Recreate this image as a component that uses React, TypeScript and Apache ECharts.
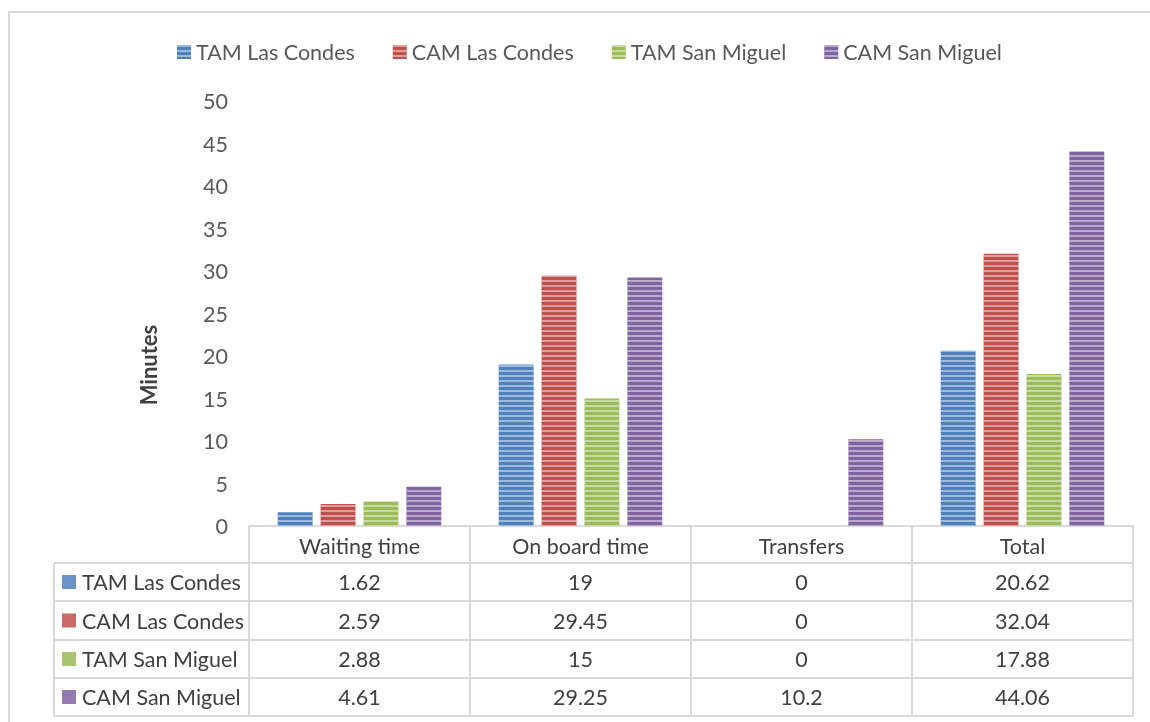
import React, { useEffect, useRef } from "react";
import * as echarts from "echarts";

const categories = ["Waiting time", "On board time", "Transfers", "Total"];
const seriesNames = ["TAM Las Condes", "CAM Las Condes", "TAM San Miguel", "CAM San Miguel"];
const tamLasCondes = [1.62, 19, 0, 20.62];
const camLasCondes = [2.59, 29.45, 0, 32.04];
const tamSanMiguel = [2.88, 15, 0, 17.88];
const camSanMiguel = [4.61, 29.25, 10.2, 44.06];
const seriesValues = [tamLasCondes, camLasCondes, tamSanMiguel, camSanMiguel];
const colors = ["#4F81BD", "#C0504D", "#9BBB59", "#8064A2"];

const W = 1150;
const H = 722;
const GL = 249;
const GR = 1133;
const GT = 101;
const GB = 526;
const TABLE_LEFT = 54;
const ROW_LINES = [563, 601, 640, 678, 716];
const FONT = "Lato, 'Noto Sans', sans-serif";
const TXT = "#404040";
const LINE = "#D9D9D9";
const FS = 21.5;

const decal = {
  symbol: "rect",
  symbolSize: 1,
  dashArrayX: [1, 0],
  dashArrayY: [2, 2.5],
  rotation: 0,
  color: "rgba(255,255,255,0.45)",
};

export default function App() {
  const ref = useRef<HTMLDivElement>(null);
  useEffect(() => {
    if (!ref.current) return;
    const chart = echarts.init(ref.current, null, { renderer: "svg" });
    const colW = (GR - GL) / categories.length;
    const graphics: any[] = [];
    graphics.push({
      type: "rect",
      shape: { x: 9, y: 12, width: 1200, height: 800 },
      style: { fill: "none", stroke: LINE, lineWidth: 2 },
      silent: true,
    });
    graphics.push({
      type: "text",
      x: 148,
      y: 365,
      rotation: Math.PI / 2,
      style: {
        text: "Minutes",
        font: `bold 22px ${FONT}`,
        fill: TXT,
        align: "center",
        verticalAlign: "middle",
      },
    });
    ROW_LINES.forEach((y) => {
      graphics.push({
        type: "line",
        shape: { x1: TABLE_LEFT, y1: y, x2: GR, y2: y },
        style: { stroke: LINE, lineWidth: 2 },
        silent: true,
      });
    });
    graphics.push({
      type: "line",
      shape: { x1: TABLE_LEFT, y1: ROW_LINES[0], x2: TABLE_LEFT, y2: ROW_LINES[ROW_LINES.length - 1] },
      style: { stroke: LINE, lineWidth: 2 },
      silent: true,
    });
    seriesNames.forEach((name, i) => {
      const yc = (ROW_LINES[i] + ROW_LINES[i + 1]) / 2;
      graphics.push({
        type: "rect",
        shape: { x: 62, y: yc - 7, width: 14, height: 14 },
        style: { fill: colors[i], opacity: 0.85 },
      });
      graphics.push({
        type: "text",
        x: 82,
        y: yc,
        style: { text: name, font: `${FS}px ${FONT}`, fill: TXT, align: "left", verticalAlign: "middle" },
      });
      seriesValues[i].forEach((v, j) => {
        graphics.push({
          type: "text",
          x: GL + colW * (j + 0.5),
          y: yc,
          style: { text: String(v), font: `${FS}px ${FONT}`, fill: TXT, align: "center", verticalAlign: "middle" },
        });
      });
    });

    chart.setOption({
      animation: false,
      textStyle: { fontFamily: FONT },
      color: colors,
      legend: {
        top: 36,
        left: 172,
        icon: "rect",
        itemWidth: 14,
        itemHeight: 14,
        itemGap: 38,
        textStyle: { fontSize: FS, color: "#595959", fontFamily: FONT },
        data: seriesNames,
      },
      grid: { left: GL, right: W - GR, top: GT, bottom: H - GB, containLabel: false },
      xAxis: {
        type: "category",
        data: categories,
        axisLine: { lineStyle: { color: LINE, width: 2 } },
        axisTick: { show: true, length: ROW_LINES[ROW_LINES.length - 1] - GB, lineStyle: { color: LINE, width: 2 } },
        axisLabel: { color: TXT, fontSize: FS, margin: 9, fontFamily: FONT },
      },
      yAxis: {
        type: "value",
        min: 0,
        max: 50,
        interval: 5,
        axisLine: { show: false },
        axisTick: { show: false },
        splitLine: { show: false },
        axisLabel: { color: "#595959", fontSize: FS, margin: 21, fontFamily: FONT },
      },
      series: seriesNames.map((name, i) => ({
        name,
        type: "bar",
        data: seriesValues[i],
        barGap: "23%",
        barCategoryGap: "26%",
        itemStyle: { color: colors[i], decal },
      })),
      graphic: graphics,
    });
    return () => chart.dispose();
  }, []);
  return <div ref={ref} style={{ position: "fixed", left: 0, top: 0, width: W, height: H }} />;
}
